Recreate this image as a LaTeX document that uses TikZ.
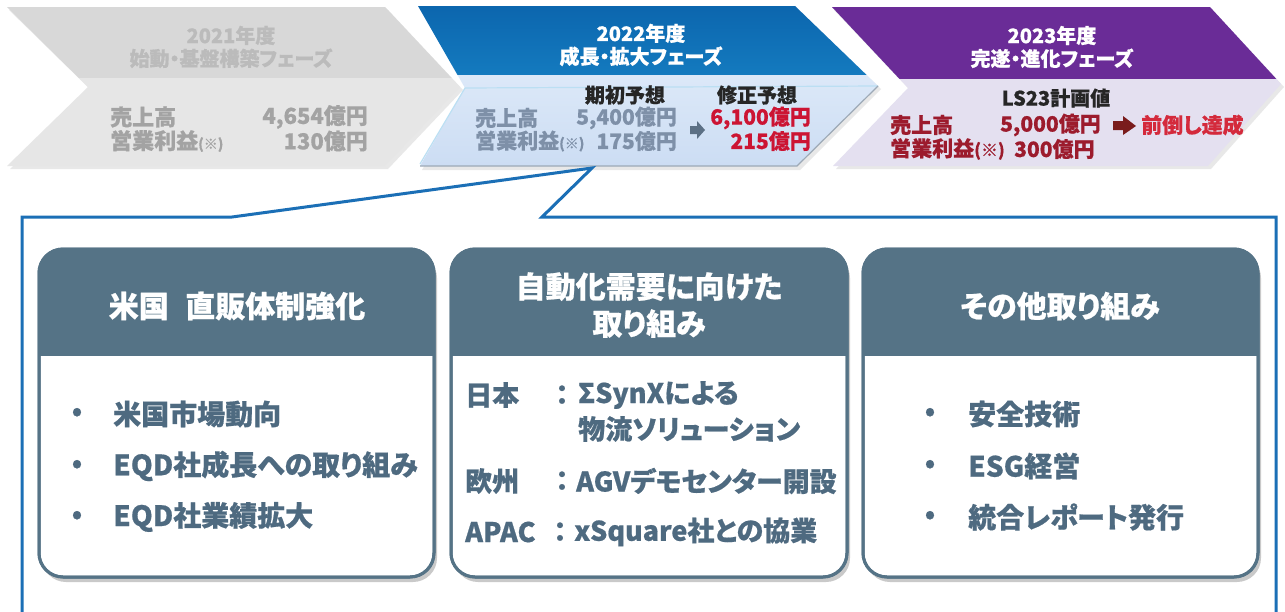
\documentclass[tikz,border=0pt]{standalone}
\usepackage{fontspec}
\setmainfont{Noto Sans CJK JP}[RawFeature=+palt, BoldFeatures={FakeBold=0.6}]
\usetikzlibrary{shadows}
\definecolor{gHdr}{HTML}{D8D8D8}
\definecolor{gBody}{HTML}{E6E6E6}
\definecolor{gHdrTxt}{HTML}{BBBBBB}
\definecolor{gTxt}{HTML}{A3A3A3}
\definecolor{bTop}{HTML}{0C66AE}
\definecolor{bBot}{HTML}{1E95D5}
\definecolor{bBodyTop}{HTML}{E8F1FC}
\definecolor{bBodyBot}{HTML}{CCDDF3}
\definecolor{bTxt}{HTML}{7E90A8}
\definecolor{redTxt}{HTML}{CC1433}
\definecolor{bArrow}{HTML}{5C7085}
\definecolor{pHdr}{HTML}{6A2C97}
\definecolor{pBody}{HTML}{E4E0F0}
\definecolor{maroon}{HTML}{9C1B2D}
\definecolor{brightRed}{HTML}{D42A3C}
\definecolor{pArrow}{HTML}{7A1C1C}
\definecolor{slate}{HTML}{557386}
\definecolor{slateTxt}{HTML}{4E6A80}
\definecolor{frameBlue}{HTML}{1B6FB6}
\tikzset{
  chshadow/.style={fill=black!25, opacity=0.35},
  hdtxt/.style={font=\bfseries\fontsize{20}{23}\selectfont, inner sep=0, align=center},
  bdtxt/.style={font=\bfseries\fontsize{21}{24}\selectfont, inner sep=0},
  cardbox/.style={draw=slate, line width=3pt, fill=white, rounded corners=24pt},
  cardtitle/.style={font=\bfseries\fontsize{30}{37}\selectfont, text=white, inner sep=0, align=center},
  cardtxt/.style={font=\bfseries\fontsize{28}{30}\selectfont, text=slateTxt, inner sep=0, anchor=west},
  cardtxtb/.style={font=\bfseries\fontsize{27}{30}\selectfont, text=slateTxt, inner sep=0, anchor=west},
  bullet/.style={font=\bfseries\fontsize{26}{26}\selectfont, text=slateTxt, inner sep=0},
  framebox/.style={draw=frameBlue, line width=3pt, line join=miter},
}
\newcommand{\kome}{{\fontsize{14}{14}\selectfont(※)}}
\begin{document}
\begin{tikzpicture}[x=1pt,y=-1pt]
\useasboundingbox (0,0) rectangle (1285,611);
\fill[white] (0,0) rectangle (1285,611);

% ---------- chevron 1 (2021) ----------
\fill[chshadow] (9,10) -- (388,10) -- (463,90) -- (388,169) -- (10,169) -- (91,90) -- cycle;
\fill[gBody] (7,7) -- (385,7) -- (460,87) -- (385,166) -- (7,166) -- (88,87) -- cycle;
\begin{scope}
  \clip (0,0) rectangle (1285,77);
  \fill[gHdr] (7,7) -- (385,7) -- (460,87) -- (385,166) -- (7,166) -- (88,87) -- cycle;
\end{scope}
\node[hdtxt, text=gHdrTxt] (c1h) at (231,47) {2021年度\\始動・基盤構築フェーズ};
\node[bdtxt, text=gTxt, anchor=west, font=\bfseries\fontsize{22}{24}\selectfont] (c1s) at (110,117) {売上高};
\node[bdtxt, text=gTxt, anchor=east, font=\bfseries\fontsize{22}{24}\selectfont] (c1sv) at (368,117) {4,654億円};
\node[bdtxt, text=gTxt, anchor=west, font=\bfseries\fontsize{22}{24}\selectfont] (c1o) at (110,141) {営業利益\kome};
\node[bdtxt, text=gTxt, anchor=east, font=\bfseries\fontsize{22}{24}\selectfont] (c1ov) at (368,141) {130億円};

% ---------- chevron 2 (2022) ----------
\fill[chshadow] (420,9) -- (798,9) -- (881,89) -- (800,170) -- (422,170) -- (468,91) -- cycle;
\shade[top color=bBodyTop, bottom color=bBodyBot] (418,6) -- (795,6) -- (878,86) -- (797,166) -- (420,166) -- (465,88) -- cycle;
\begin{scope}
  \clip (0,0) rectangle (1285,74);
  \shade[top color=bTop, bottom color=bBot] (418,6) -- (795,6) -- (878,86) -- (797,166) -- (420,166) -- (465,88) -- cycle;
\end{scope}
\draw[white!70!bBot, line width=1.2pt] (420,164) -- (465,88) -- (878,86);
\draw[bArrow!60, line width=1.2pt] (420,166) -- (797,166) -- (878,86);
\node[hdtxt, text=white] (c2h) at (641,45) {2022年度\\成長・拡大フェーズ};
\node[bdtxt, text=black!85, font=\bfseries\fontsize{20}{24}\selectfont] (c2a) at (625,95) {期初予想};
\node[bdtxt, text=black!85, font=\bfseries\fontsize{20}{24}\selectfont] (c2b) at (757,95) {修正予想};
\node[bdtxt, text=bTxt, anchor=west] (c2s) at (475,118) {売上高};
\node[bdtxt, text=bTxt, anchor=east] (c2sv) at (677,118) {5,400億円};
\node[bdtxt, text=redTxt, anchor=east] (c2sr) at (811,118) {6,100億円};
\node[bdtxt, text=bTxt, anchor=west] (c2o) at (475,141) {営業利益\kome};
\node[bdtxt, text=bTxt, anchor=east] (c2ov) at (677,141) {175億円};
\node[bdtxt, text=redTxt, anchor=east] (c2or) at (811,141) {215億円};
\fill[bArrow] (690,126) -- (697,126) -- (697,121) -- (705,130) -- (697,139) -- (697,134) -- (690,134) -- cycle;

% ---------- chevron 3 (2023) ----------
\fill[chshadow] (834,10) -- (1212,10) -- (1284,87) -- (1211,169) -- (836,169) -- (911,91) -- cycle;
\fill[pBody] (832,7) -- (1210,7) -- (1281,84) -- (1208,166) -- (833,166) -- (908,88) -- cycle;
\begin{scope}
  \clip (0,0) rectangle (1285,78);
  \fill[pHdr] (832,7) -- (1210,7) -- (1281,84) -- (1208,166) -- (833,166) -- (908,88) -- cycle;
\end{scope}
\node[hdtxt, text=white] (c3h) at (1052,47) {2023年度\\完遂・進化フェーズ};
\node[bdtxt, text=black!85, font=\bfseries\fontsize{20}{24}\selectfont] (c3p) at (1056,98) {LS23計画値};
\node[bdtxt, text=maroon, anchor=west] (c3s) at (890,125) {売上高};
\node[bdtxt, text=maroon, anchor=west] (c3sv) at (1000,125) {5,000億円};
\node[bdtxt, text=brightRed, anchor=west] (c3sr) at (1141,125) {前倒し達成};
\node[bdtxt, text=maroon, anchor=west] (c3o) at (890,149) {営業利益{\fontsize{17}{17}\selectfont(※)}};
\node[bdtxt, text=maroon, anchor=west] (c3ov) at (1014,149) {300億円};
\fill[pArrow] (1113,121) -- (1123,121) -- (1123,116) -- (1136,126) -- (1123,135) -- (1123,130) -- (1113,130) -- cycle;

% ---------- callout frame ----------
\coordinate (fBL) at (22,640);
\coordinate (fTL) at (22,217);
\coordinate (pL) at (232,217);
\coordinate (pTip) at (592,168);
\coordinate (pR) at (542,217);
\coordinate (fTR) at (1276,217);
\coordinate (fBR) at (1276,640);
\draw[framebox] (fBL) -- (fTL) -- (pL) -- (pTip) -- (pR) -- (fTR) -- (fBR);

% ---------- cards ----------
\foreach \xa/\xb in {39/434, 451/847, 863/1258}{
  \path[cardbox, drop shadow={shadow xshift=3pt, shadow yshift=-5pt, opacity=0.35, fill=black!60}] (\xa,249) rectangle (\xb,577);
  \begin{scope}
    \clip[rounded corners=24pt] (\xa,249) rectangle (\xb,577);
    \fill[slate] (\xa,249) rectangle (\xb,356);
  \end{scope}
  \draw[draw=slate, line width=3pt, rounded corners=24pt] (\xa,249) rectangle (\xb,577);
}

\node[cardtitle] (t1) at (237,306) {米国\hspace{0.55em}直販体制強化};
\node[cardtitle] (t2) at (649,305) {自動化需要に向けた\\取り組み};
\node[cardtitle] (t3) at (1060,306) {その他取り組み};

% card 1 body
\node[bullet] (b11) at (77,414) {•};
\node[cardtxt] (i11) at (113,414) {米国市場動向};
\node[bullet] (b12) at (77,466) {•};
\node[cardtxt] (i12) at (113,466) {EQD社成長への取り組み};
\node[bullet] (b13) at (77,517) {•};
\node[cardtxt] (i13) at (113,517) {EQD社業績拡大};

% card 2 body
\node[cardtxtb] (j1a) at (465,395) {日本};
\node[cardtxtb, anchor=center] (j1b) at (562,395) {：};
\node[cardtxtb] (j1c) at (578,395) {ΣSynXによる};
\node[cardtxtb] (j1d) at (578,429) {物流ソリューション};
\node[cardtxtb] (j2a) at (465,481) {欧州};
\node[cardtxtb, anchor=center] (j2b) at (562,481) {：};
\node[cardtxtb] (j2c) at (576,481) {AGVデモセンター開設};
\node[cardtxtb] (j3a) at (465,532) {APAC};
\node[cardtxtb, anchor=center] (j3b) at (560,532) {：};
\node[cardtxtb] (j3c) at (574,532) {xSquare社との協業};

% card 3 body
\node[bullet] (b31) at (930,414) {•};
\node[cardtxt] (i31) at (968,414) {安全技術};
\node[bullet] (b32) at (930,466) {•};
\node[cardtxt] (i32) at (968,466) {ESG経営};
\node[bullet] (b33) at (930,517) {•};
\node[cardtxt] (i33) at (968,517) {統合レポート発行};
\end{tikzpicture}
\end{document}
